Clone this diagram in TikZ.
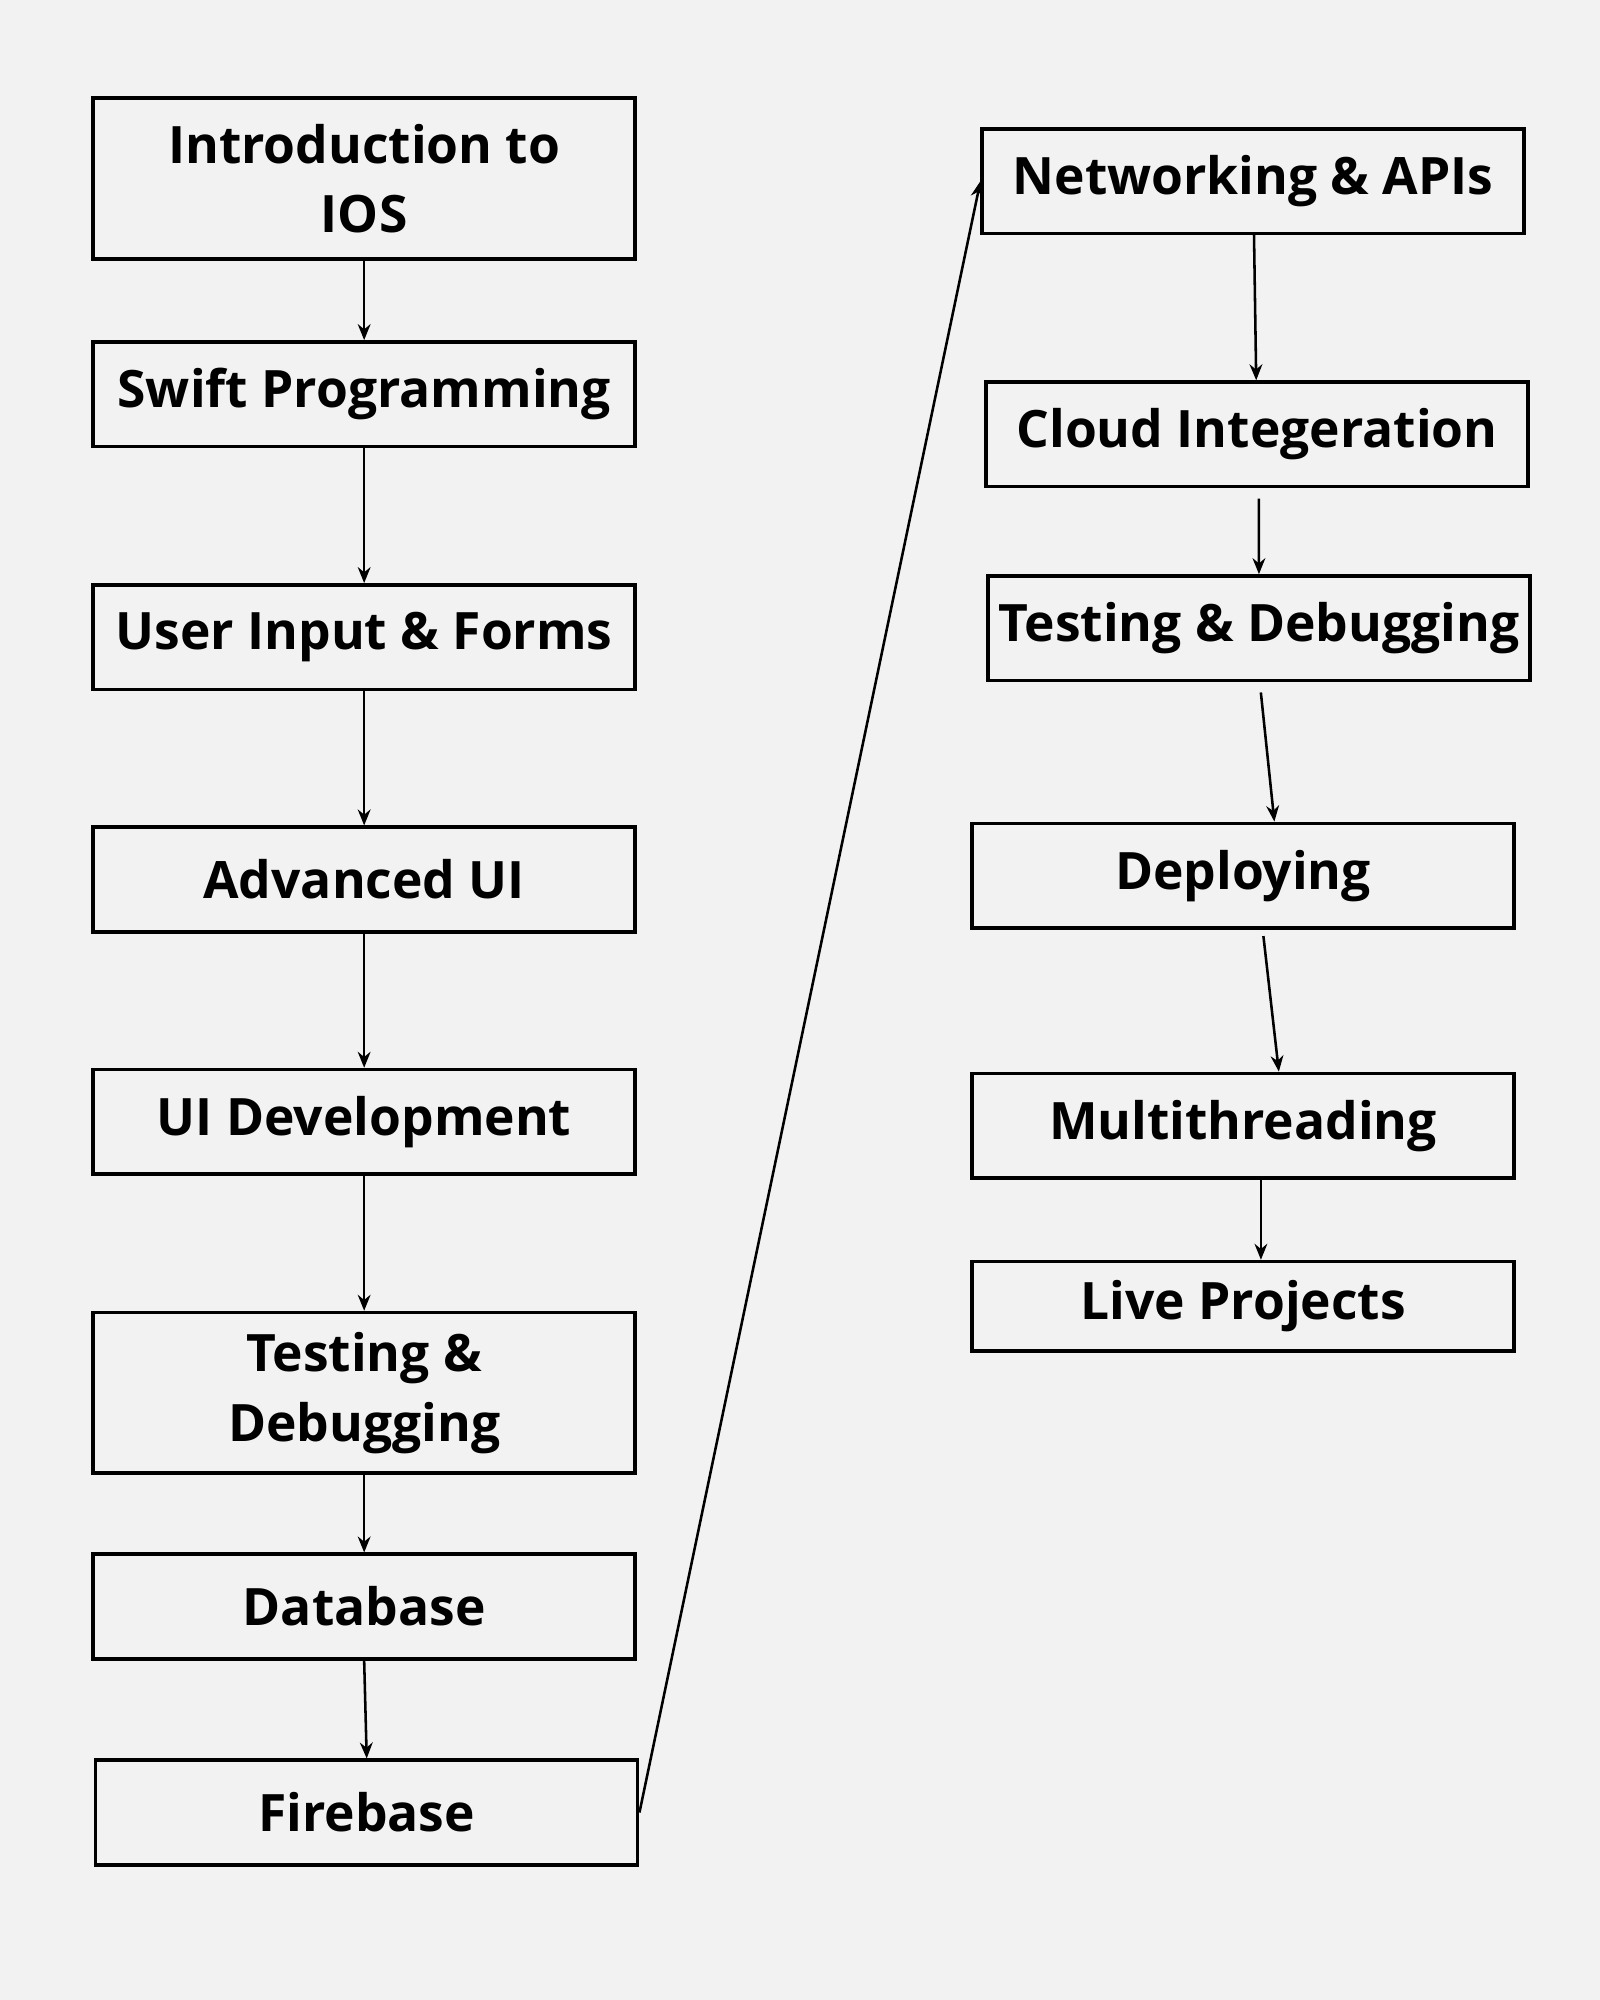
\documentclass[tikz,border=0pt]{standalone}
\usepackage{fontspec}
\setmainfont{Open Sans}
\usetikzlibrary{arrows.meta}
\definecolor{bg}{HTML}{F2F2F2}
\begin{document}
\begin{tikzpicture}[x=0.02cm,y=-0.02cm,
  box/.style={draw=black,line width=0.055cm,minimum width=8.5cm,inner sep=0pt,align=center,font=\fontsize{23}{31}\selectfont\bfseries},
  sb/.style={box,minimum height=1.64cm},
  tb/.style={box,minimum height=2.52cm},
  ar/.style={line width=0.04cm,-{Stealth[length=0.25cm,width=0.2cm]}}]
\fill[bg] (0,0) rectangle (1254,1568);
\useasboundingbox (0,0) rectangle (1254,1568);
\node[tb] (a) at (285.5,140) {Introduction to\\IOS};
\node[sb] (b) at (285.5,309) {Swift Programming};
\node[sb] (c) at (285.5,499.5) {User Input \& Forms};
\node[sb] (d) at (285.5,689.5) {Advanced UI};
\node[sb] (e) at (285.5,879.5) {UI Development};
\node[tb] (f) at (285.5,1092) {Testing \&\\Debugging};
\node[sb] (g) at (285.5,1259.5) {Database};
\node[sb] (h) at (287.5,1421) {Firebase};
\node[sb] (i) at (982.5,142) {Networking \& APIs};
\node[sb] (j) at (985.5,340.5) {Cloud Integeration};
\node[sb] (k) at (987,492.5) {Testing \& Debugging};
\node[sb] (l) at (974.5,686.5) {Deploying};
\node[sb] (m) at (974.5,882.5) {Multithreading};
\node[box,minimum height=1.4cm] (n) at (974.5,1024) {Live Projects};
\draw[ar] (a) -- (b);
\draw[ar] (b) -- (c);
\draw[ar] (c) -- (d);
\draw[ar] (d) -- (e);
\draw[ar] (e) -- (f);
\draw[ar] (f) -- (g);
\draw[ar] ([yshift=0cm]g.south) -- ([yshift=0cm]h.north);
\draw[ar] (h.east) -- (i.west);
\draw[ar] (i) -- (j);
\draw[ar] ([shift={(1.5,8)}]j.south) -- (k.north);
\draw[ar] ([shift={(1.5,8)}]k.south) -- ([xshift=14]l.north);
\draw[ar] ([shift={(16,5)}]l.south) -- ([xshift=16]m.north);
\draw[ar] ([xshift=8]m.south) -- ([xshift=8]n.north);
\end{tikzpicture}
\end{document}
